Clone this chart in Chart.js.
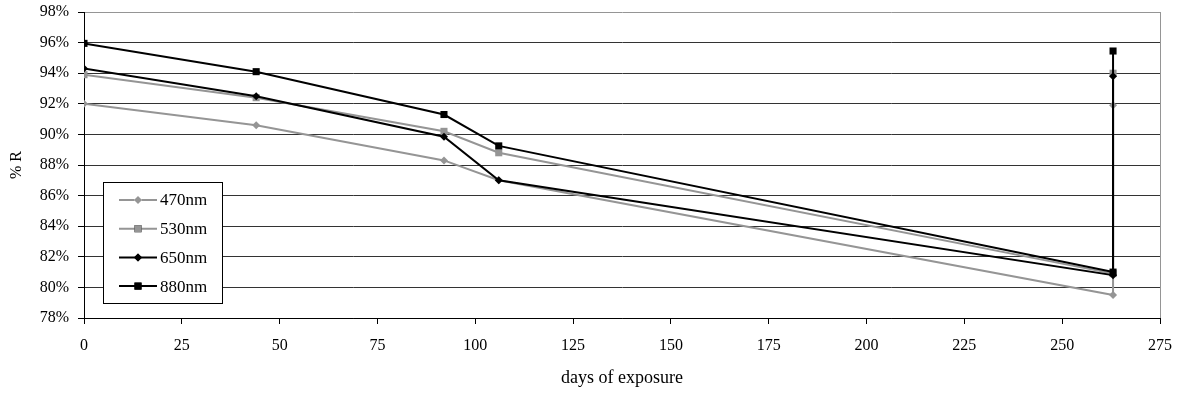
<!DOCTYPE html>
<html>
<head>
<meta charset="utf-8">
<script src="https://cdn.jsdelivr.net/npm/chart.js@4.4.0/dist/chart.umd.min.js"></script>
<style>
	body { margin: 0; background: #fff; }
	#wrap { width: 1178px; height: 393px; position: relative; }
</style>
</head>
<body>
<div id="wrap"><canvas id="chart"></canvas></div>
<script>
// values (% R per day of exposure)
var days = [0, 44, 92, 106, 263, 263];
var r470 = [92.0, 90.6, 88.3, 87.0, 79.5, 91.9];
var r530 = [93.9, 92.4, 90.2, 88.8, 80.9, 94.0];
var r650 = [94.3, 92.5, 89.85, 87.0, 80.8, 93.8];
var r880 = [95.95, 94.1, 91.3, 89.25, 81.0, 95.45];
var seriesNames = ['470nm', '530nm', '650nm', '880nm'];
var xTitle = 'days of exposure';
var yTitle = '% R';

var GRAY = '#959595';
var FONT = 'Liberation Serif';

function points(vals) {
	return days.map(function(d, i) { return { x: d, y: vals[i] }; });
}

var styles = [
	{ color: GRAY, shape: 'rectRot', radius: 4 },
	{ color: GRAY, shape: 'rect', radius: 5 },
	{ color: '#000', shape: 'rectRot', radius: 4 },
	{ color: '#000', shape: 'rect', radius: 5 }
];

var datasets = [r470, r530, r650, r880].map(function(vals, i) {
	var s = styles[i];
	return {
		label: seriesNames[i],
		data: points(vals),
		borderColor: s.color,
		backgroundColor: s.color,
		borderWidth: 2,
		pointStyle: s.shape,
		pointRadius: s.radius,
		pointBorderWidth: 0,
		pointBackgroundColor: s.color,
		order: 3 - i,
		tension: 0
	};
});

// legend box inside the plot, like the original
var boxLegend = {
	id: 'boxLegend',
	afterDraw: function(chart) {
		var ctx = chart.ctx;
		var ca = chart.chartArea;
		var bx = ca.left + 19, by = ca.top + 170, bw = 119, bh = 121;
		ctx.save();
		ctx.fillStyle = '#fff';
		ctx.fillRect(bx, by, bw, bh);
		ctx.strokeStyle = '#000';
		ctx.lineWidth = 1;
		ctx.strokeRect(bx + 0.5, by + 0.5, bw, bh);
		ctx.font = '17px "' + FONT + '"';
		ctx.textBaseline = 'middle';
		chart.data.datasets.forEach(function(ds, i) {
			var y = by + 18 + i * 28.7;
			ctx.strokeStyle = ds.borderColor;
			ctx.lineWidth = 2;
			ctx.beginPath();
			ctx.moveTo(bx + 16, y);
			ctx.lineTo(bx + 54, y);
			ctx.stroke();
			Chart.helpers.drawPoint(ctx, {
				pointStyle: ds.pointStyle,
				radius: ds.pointRadius,
				rotation: 0,
				borderWidth: 0
			}, bx + 35, y);
			ctx.fillStyle = ds.borderColor;
			ctx.fill();
			ctx.fillStyle = '#000';
			ctx.fillText(ds.label, bx + 57, y + 1);
		});
		ctx.restore();
	}
};

new Chart(document.getElementById('chart'), {
	type: 'line',
	data: { datasets: datasets },
	plugins: [boxLegend],
	options: {
		responsive: true,
		maintainAspectRatio: false,
		animation: false,
		layout: { padding: { top: 12, right: 18, left: 0, bottom: 0 } },
		plugins: {
			legend: { display: false },
			tooltip: { enabled: false }
		},
		scales: {
			x: {
				type: 'linear',
				min: 0,
				max: 275,
				afterFit: function(scale) {
					scale.height = 75;
					scale.paddingLeft = 0;
					scale.paddingRight = 0;
				},
				ticks: {
					stepSize: 25,
					color: '#000',
					padding: 12,
					font: { family: FONT, size: 16 },
					maxRotation: 0
				},
				grid: {
					color: function(c) { return c.tick && c.tick.value === 275 ? GRAY : 'rgba(0,0,0,0)'; },
					tickColor: '#000',
					tickLength: 6
				},
				border: { color: '#000', width: 1 },
				title: {
					display: true,
					text: xTitle,
					color: '#000',
					font: { family: FONT, size: 18 },
					padding: { top: 6 }
				}
			},
			y: {
				min: 78,
				max: 98,
				afterFit: function(scale) {
					scale.width = 84;
					scale.paddingTop = 0;
					scale.paddingBottom = 0;
				},
				ticks: {
					stepSize: 2,
					color: '#000',
					padding: 9,
					font: { family: FONT, size: 16 },
					callback: function(v) { return v + '%'; }
				},
				grid: {
					color: function(c) { return c.tick && c.tick.value === 98 ? GRAY : '#333'; },
					tickColor: '#000',
					tickLength: 6
				},
				border: { color: '#000', width: 1 },
				title: {
					display: true,
					text: yTitle,
					color: '#000',
					font: { family: FONT, size: 16 },
					padding: { top: 7, bottom: 0 }
				}
			}
		}
	}
});
</script>
</body>
</html>
